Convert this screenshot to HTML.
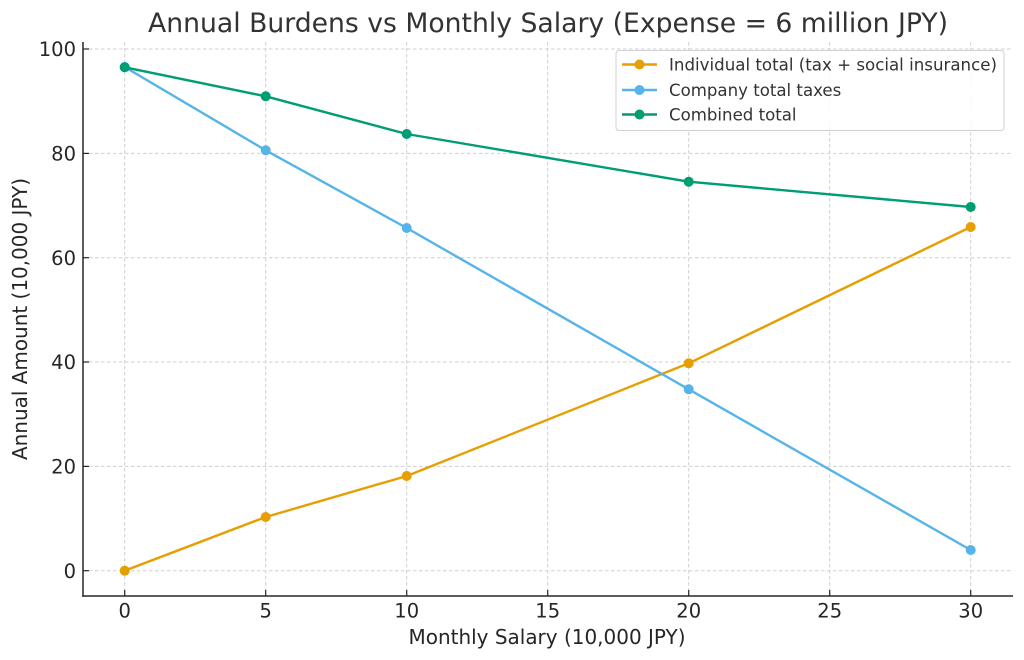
<!DOCTYPE html>
<html><head><meta charset="utf-8"><style>
html,body{margin:0;padding:0;background:#fff;}
svg{display:block;}
text{font-family:"DejaVu Sans","Liberation Sans",sans-serif;}
</style></head><body>
<svg width="1024" height="660" viewBox="0 0 1024 660" xmlns="http://www.w3.org/2000/svg">
<rect width="1024" height="660" fill="#fff"/>
<text x="548" y="32" font-size="26.7" fill="#333" text-anchor="middle" textLength="800" lengthAdjust="spacingAndGlyphs">Annual Burdens vs Monthly Salary (Expense = 6 million JPY)</text>
<g stroke="#cfcfcf" stroke-width="1" stroke-dasharray="3.5,2.5" fill="none">
<line x1="124.7" y1="42" x2="124.7" y2="596"/>
<line x1="265.7" y1="42" x2="265.7" y2="596"/>
<line x1="406.7" y1="42" x2="406.7" y2="596"/>
<line x1="547.7" y1="42" x2="547.7" y2="596"/>
<line x1="688.7" y1="42" x2="688.7" y2="596"/>
<line x1="829.7" y1="42" x2="829.7" y2="596"/>
<line x1="970.7" y1="42" x2="970.7" y2="596"/>
<line x1="83" y1="570.7" x2="1013" y2="570.7"/>
<line x1="83" y1="466.4" x2="1013" y2="466.4"/>
<line x1="83" y1="362" x2="1013" y2="362"/>
<line x1="83" y1="257.7" x2="1013" y2="257.7"/>
<line x1="83" y1="153.4" x2="1013" y2="153.4"/>
<line x1="83" y1="49" x2="1013" y2="49"/>
</g>
<g fill="none" stroke-width="2.4" stroke-linejoin="round">
<polyline stroke="#E69F00" points="124.7,570.7 265.7,517 406.7,476 688.7,363.3 970.7,227"/>
<polyline stroke="#56B4E9" points="124.7,67 265.7,150.3 406.7,228 688.7,389.3 970.7,550"/>
<polyline stroke="#009E73" points="124.7,67.3 265.7,96.3 406.7,134 688.7,181.7 970.7,207"/>
</g>
<g fill="#E69F00">
<circle cx="124.7" cy="570.7" r="5"/><circle cx="265.7" cy="517" r="5"/><circle cx="406.7" cy="476" r="5"/><circle cx="688.7" cy="363.3" r="5"/><circle cx="970.7" cy="227" r="5"/>
</g>
<g fill="#56B4E9">
<circle cx="124.7" cy="67" r="5"/><circle cx="265.7" cy="150.3" r="5"/><circle cx="406.7" cy="228" r="5"/><circle cx="688.7" cy="389.3" r="5"/><circle cx="970.7" cy="550" r="5"/>
</g>
<g fill="#009E73">
<circle cx="124.7" cy="67.3" r="5"/><circle cx="265.7" cy="96.3" r="5"/><circle cx="406.7" cy="134" r="5"/><circle cx="688.7" cy="181.7" r="5"/><circle cx="970.7" cy="207" r="5"/>
</g>
<g stroke="#262626" stroke-width="1.5" fill="none">
<line x1="83" y1="42" x2="83" y2="596.75"/>
<line x1="82.25" y1="596" x2="1013" y2="596"/>
</g>
<g stroke="#262626" stroke-width="1.2">
<line x1="124.7" y1="596" x2="124.7" y2="590"/>
<line x1="265.7" y1="596" x2="265.7" y2="590"/>
<line x1="406.7" y1="596" x2="406.7" y2="590"/>
<line x1="547.7" y1="596" x2="547.7" y2="590"/>
<line x1="688.7" y1="596" x2="688.7" y2="590"/>
<line x1="829.7" y1="596" x2="829.7" y2="590"/>
<line x1="970.7" y1="596" x2="970.7" y2="590"/>
<line x1="83" y1="570.7" x2="89" y2="570.7"/>
<line x1="83" y1="466.4" x2="89" y2="466.4"/>
<line x1="83" y1="362" x2="89" y2="362"/>
<line x1="83" y1="257.7" x2="89" y2="257.7"/>
<line x1="83" y1="153.4" x2="89" y2="153.4"/>
<line x1="83" y1="49" x2="89" y2="49"/>
</g>
<g font-size="19.5" fill="#262626" text-anchor="middle">
<text x="124.7" y="617.5">0</text>
<text x="265.7" y="617.5">5</text>
<text x="406.7" y="617.5">10</text>
<text x="547.7" y="617.5">15</text>
<text x="688.7" y="617.5">20</text>
<text x="829.7" y="617.5">25</text>
<text x="970.7" y="617.5">30</text>
</g>
<g font-size="19.5" fill="#262626" text-anchor="end">
<text x="76" y="577.8">0</text>
<text x="76" y="473.5">20</text>
<text x="76" y="369.1">40</text>
<text x="76" y="264.8">60</text>
<text x="76" y="160.5">80</text>
<text x="76" y="56.1">100</text>
</g>
<text x="547" y="644" font-size="20" fill="#262626" text-anchor="middle" textLength="277" lengthAdjust="spacingAndGlyphs">Monthly Salary (10,000 JPY)</text>
<text transform="translate(27,319) rotate(-90)" x="0" y="0" font-size="20" fill="#262626" text-anchor="middle" textLength="282" lengthAdjust="spacingAndGlyphs">Annual Amount (10,000 JPY)</text>
<rect x="616" y="50.5" width="388" height="80" rx="3" fill="#fff" fill-opacity="0.85" stroke="#d0d0d0" stroke-width="1"/>
<g stroke-width="2.4">
<line x1="622" y1="64.5" x2="657" y2="64.5" stroke="#E69F00"/>
<line x1="622" y1="90" x2="657" y2="90" stroke="#56B4E9"/>
<line x1="622" y1="114.5" x2="657" y2="114.5" stroke="#009E73"/>
</g>
<circle cx="639.5" cy="64.5" r="5" fill="#E69F00"/>
<circle cx="639.5" cy="90" r="5" fill="#56B4E9"/>
<circle cx="639.5" cy="114.5" r="5" fill="#009E73"/>
<g font-size="16.6" fill="#333">
<text x="669" y="70.5" textLength="328" lengthAdjust="spacingAndGlyphs">Individual total (tax + social insurance)</text>
<text x="669" y="96">Company total taxes</text>
<text x="669" y="120.5">Combined total</text>
</g>
</svg>
</body></html>
